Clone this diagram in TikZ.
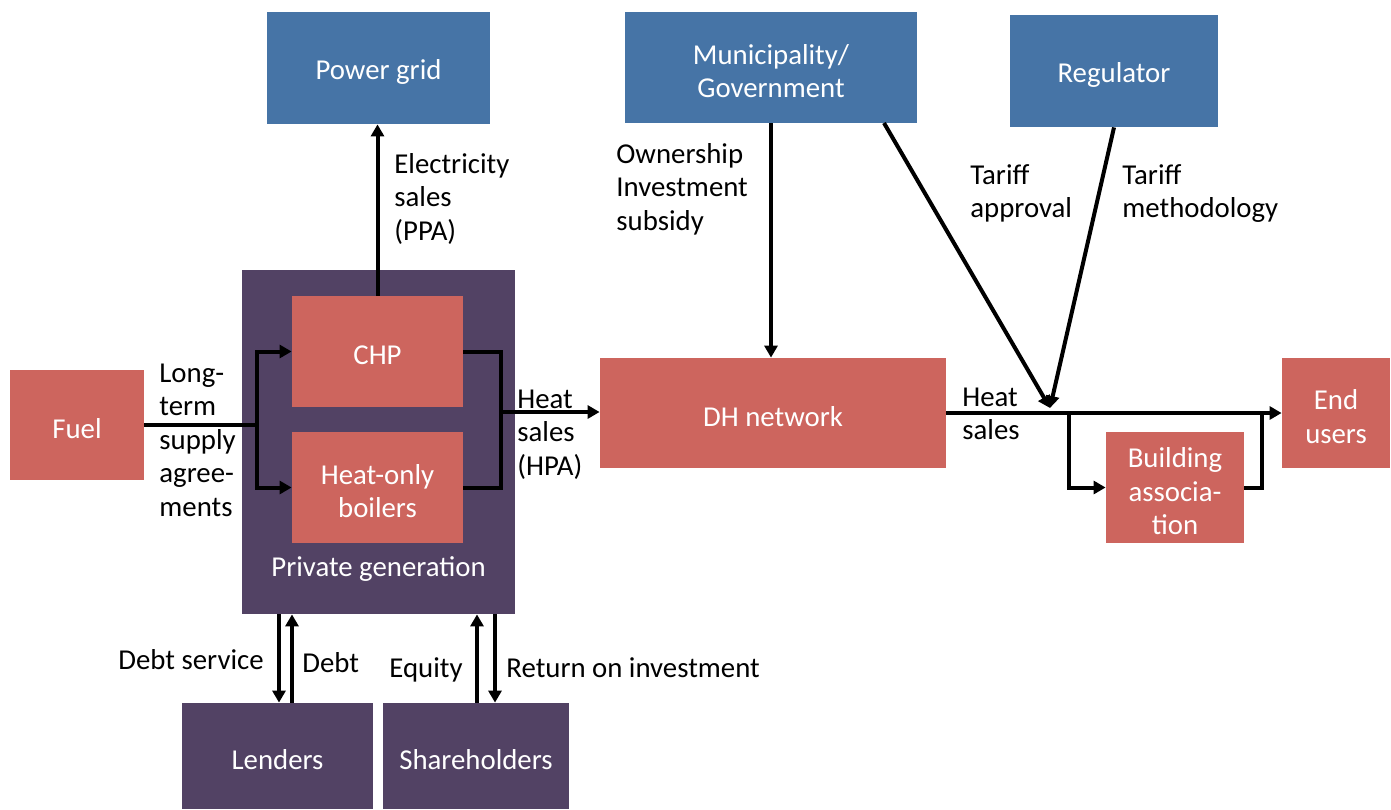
\documentclass[tikz,border=0pt]{standalone}
\usepackage{fontspec}
\setmainfont{Carlito}
\usetikzlibrary{arrows.meta}
\definecolor{govblue}{RGB}{70,116,166}
\definecolor{unitred}{RGB}{205,101,94}
\definecolor{ownpurple}{RGB}{82,66,100}
\tikzset{
  every node/.style={font=\fontsize{14.4}{16.75}\selectfont},
  boxtext/.style={inner sep=0pt, text=white, align=center, yshift=-1.8pt},
  box/.style={inner sep=0pt},
  bluebox/.style={box, fill=govblue},
  redbox/.style={box, fill=unitred},
  purplebox/.style={box, fill=ownpurple},
  flow/.style={line width=2pt, black},
  flowarrow/.style={flow, -{Triangle[length=6pt,width=6.5pt]}},
  lbl/.style={anchor=base west, align=left, inner sep=0pt, text=black}
}
\begin{document}
\begin{tikzpicture}[x=0.5pt,y=-0.5pt]
\useasboundingbox (0,0) rectangle (1391,809);

% actors (text set as a centred label, nudged to sit like the slide text)
\node[bluebox, minimum width=111.5pt, minimum height=56pt,
  label={[boxtext]center:Power grid}] (pg) at (378.5,68) {};
\node[bluebox, minimum width=146pt, minimum height=55.5pt,
  label={[boxtext]center:{Municipality/\\Government}}] (muni) at (771,67.5) {};
\node[bluebox, minimum width=104pt, minimum height=56pt,
  label={[boxtext]center:Regulator}] (reg) at (1114,71) {};
\node[redbox, minimum width=67pt, minimum height=55pt,
  label={[boxtext]center:Fuel}] (fuel) at (77,425) {};
\node[purplebox, minimum width=136.5pt, minimum height=172pt] (priv) at (378.5,442) {};
\node[boxtext] (privlabel) at (378.5,565) {Private generation};
\node[redbox, minimum width=85.5pt, minimum height=55.5pt,
  label={[boxtext]center:CHP}] (chp) at (377.5,351.5) {};
\node[redbox, minimum width=85.5pt, minimum height=55.5pt,
  label={[boxtext]center:{Heat-only\\boilers}}] (hob) at (377.5,487.5) {};
\node[redbox, minimum width=173pt, minimum height=55pt,
  label={[boxtext]center:DH network}] (dh) at (773,413) {};
\node[redbox, minimum width=54pt, minimum height=55pt,
  label={[boxtext]center:{End\\users}}] (eu) at (1336,413) {};
\node[redbox, minimum width=69pt, minimum height=55.5pt,
  label={[boxtext]center:{Building\\associa-\\tion}}] (ba) at (1175,487.5) {};
\node[purplebox, minimum width=95.5pt, minimum height=53pt,
  label={[boxtext]center:Lenders}] (lenders) at (277.5,756) {};
\node[purplebox, minimum width=93pt, minimum height=53pt,
  label={[boxtext]center:Shareholders}] (sh) at (476,756) {};

% junction points
\coordinate (fj) at (257,425);
\coordinate (hj) at (501,412);
\coordinate (tj) at (1050,412);
\coordinate (bj) at (1069,413);
\coordinate (bk) at (1262,413);
\coordinate (mt) at (884,123);

% fuel supply into the plants
\draw[flow] (fuel.east) -- (fj);
\draw[flowarrow] (fj) |- (chp.west);
\draw[flowarrow] (fj) |- (hob.west);

% electricity to the grid
\draw[flowarrow] (chp.north) -- (chp.north |- pg.south);

% heat from the plants to the network
\draw[flow] (chp.east) -| (hj);
\draw[flow] (hob.east) -| (hj);
\draw[flowarrow] (hj) -- (hj -| dh.west);

% municipality and regulator
\draw[flowarrow] (muni.south) -- (muni.south |- dh.north);
\draw[flowarrow] (mt) -- ([yshift=2pt]tj);
\draw[flowarrow] (reg.south) -- ([yshift=2pt]tj);

% heat sales to end users
\draw[flowarrow] (dh.east) -- (eu.west);
\draw[flowarrow] (bj) |- (ba.west);
\draw[flow] (ba.east) -| (bk);

% finance
\draw[flowarrow] ([xshift=0.75pt]lenders.north |- priv.south) -- ([xshift=0.75pt]lenders.north);
\draw[flowarrow] ([xshift=7.25pt]lenders.north) -- ([xshift=7.25pt]lenders.north |- priv.south);
\draw[flowarrow] ([xshift=0.5pt]sh.north) -- ([xshift=0.5pt]sh.north |- priv.south);
\draw[flowarrow] ([xshift=9.5pt]sh.north |- priv.south) -- ([xshift=9.5pt]sh.north);

% labels (anchored at the baseline of their last line)
\node[lbl] (l1) at (394,240) {Electricity\\sales\\(PPA)};
\node[lbl] (l2) at (159,516) {Long-\\term\\supply\\agree-\\ments};
\node[lbl] (l3) at (517,475) {Heat\\sales\\(HPA)};
\node[lbl] (l4) at (616,230) {Ownership\\Investment\\subsidy};
\node[lbl] (l5) at (970,217.5) {Tariff\\approval};
\node[lbl] (l6) at (1122,217.5) {Tariff\\methodology};
\node[lbl] (l7) at (962,439.5) {Heat\\sales};
\node[lbl] (l8) at (118,669) {Debt service};
\node[lbl] (l9) at (302,672) {Debt};
\node[lbl] (l10) at (389,677) {Equity};
\node[lbl] (l11) at (506,677) {Return on investment};
\end{tikzpicture}
\end{document}
